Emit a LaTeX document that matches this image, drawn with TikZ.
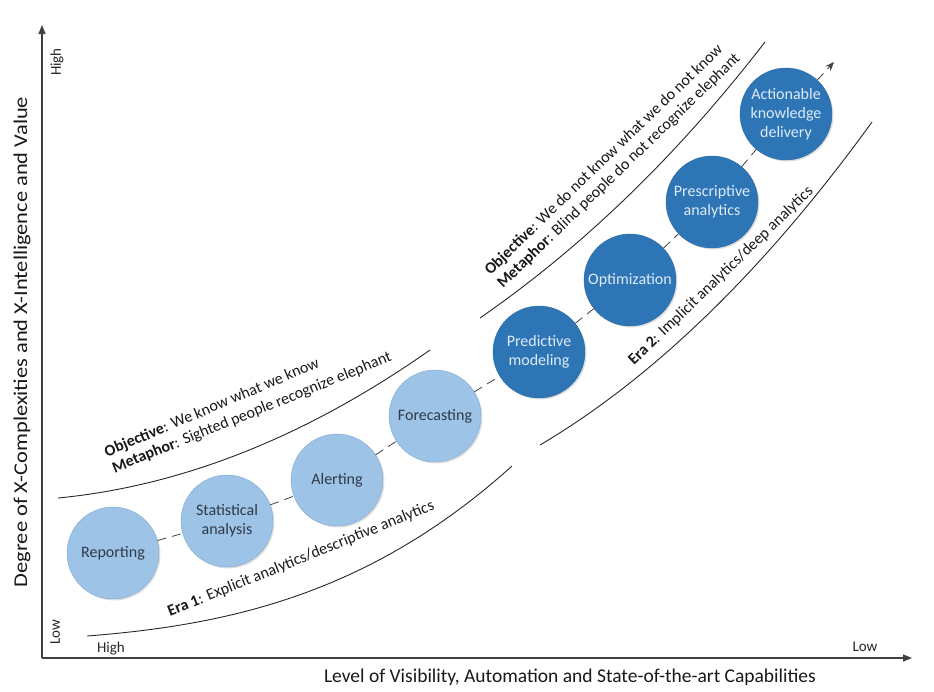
\documentclass[tikz,border=0pt]{standalone}
\usepackage{fontspec}
\setmainfont{Carlito}
\usetikzlibrary{arrows.meta,shadows}
\definecolor{lightfill}{HTML}{9DC3E6}
\definecolor{lightedge}{HTML}{7FA8D2}
\definecolor{lighttext}{HTML}{2E3A4A}
\definecolor{darkfill}{HTML}{2E75B6}
\definecolor{darkedge}{HTML}{2A6AA6}
\definecolor{darktext}{HTML}{DDEBF7}
\definecolor{axisgray}{HTML}{404040}
\tikzset{
  stage/.style={circle, minimum size=92pt, inner sep=0pt, align=center,
    font=\fontsize{16}{19}\selectfont,
    drop shadow={opacity=0.25, shadow xshift=1.5pt, shadow yshift=-1.5pt}},
  eraone/.style={stage, fill=lightfill, draw=lightedge, text=lighttext},
  eratwo/.style={stage, fill=darkfill, draw=darkedge, text=darktext},
  link/.style={draw=axisgray, dash pattern=on 9pt off 6pt, line width=0.8pt},
  band/.style={draw=black!85, line width=0.9pt},
  note/.style={font=\fontsize{16}{18}\selectfont, text=black!90},
  axis/.style={draw=axisgray, line width=1.1pt, -{Triangle[length=9pt,width=7pt]}},
  axislabel/.style={font=\fontsize{19.5}{22}\selectfont, text=black!90},
  tick/.style={font=\fontsize{15}{17}\selectfont, text=black!85}
}
\begin{document}
\begin{tikzpicture}[x=1pt, y=-1pt]
\useasboundingbox (0,0) rectangle (934,691);

\coordinate (o) at (42,658);
\coordinate (ytop) at (42,25);
\coordinate (xend) at (912,658);
\draw[axis] (o) -- (ytop);
\draw[axis] (o) -- (xend);
\node[axislabel, rotate=90, xscale=1.15] (ylab) at (22,342) {Degree of X-Complexities and X-Intelligence and Value};
\node[axislabel] (xlab) at (570,677) {Level of Visibility, Automation and State-of-the-art Capabilities};
\node[tick, rotate=90] (yhigh) at (57,62) {High};
\node[tick, rotate=90] (ylow) at (55,632) {Low};
\node[tick] (xhigh) at (111,649) {High};
\node[tick] (xlow) at (865,647) {Low};

% bands of the two eras
\draw[band] (58,498) .. controls (182,486) and (306,437) .. (430,350);
\draw[band] (87,636) .. controls (229,625) and (370,594) .. (512,466);
\draw[band] (480,318) .. controls (575,252) and (670,165) .. (765,42);
\draw[band] (540,445) .. controls (650,380) and (762,274) .. (872,122);

\node[note, rotate=23] (obj1) at (212,408) {\textbf{Objective}: We know what we know};
\node[note, rotate=22] (met1) at (252,413) {\textbf{Metaphor}: Sighted people recognize elephant};
\node[note, rotate=22] (era1) at (301,559) {\textbf{Era 1}: Explicit analytics/descriptive analytics};
\node[note, rotate=44] (obj2) at (604,160) {\textbf{Objective}: We do not know what we do not know};
\node[note, rotate=44] (met2) at (619,171) {\textbf{Metaphor}: Blind people do not recognize elephant};
\node[note, rotate=44] (era2) at (721,276) {\textbf{Era 2}: Implicit analytics/deep analytics};

% stages
\node[eraone] (rep) at (113,553) {Reporting};
\node[eraone] (stat) at (227,521) {Statistical\\analysis};
\node[eraone] (alert) at (337,480) {Alerting};
\node[eraone] (fore) at (435,416) {Forecasting};
\node[eratwo] (pred) at (539,352) {Predictive\\modeling};
\node[eratwo] (opt) at (630,280) {Optimization};
\node[eratwo] (presc) at (712,202) {Prescriptive\\analytics};
\node[eratwo] (akd) at (786,114) {Actionable\\knowledge\\delivery};
\coordinate (tip) at (834,62);

\draw[link] (rep) -- (stat);
\draw[link] (stat) -- (alert);
\draw[link] (alert) -- (fore);
\draw[link] (fore) -- (pred);
\draw[link] (pred) -- (opt);
\draw[link] (opt) -- (presc);
\draw[link] (presc) -- (akd);
\draw[link, -{Stealth[length=9pt,width=7pt]}] (akd) -- (tip);
\end{tikzpicture}
\end{document}
